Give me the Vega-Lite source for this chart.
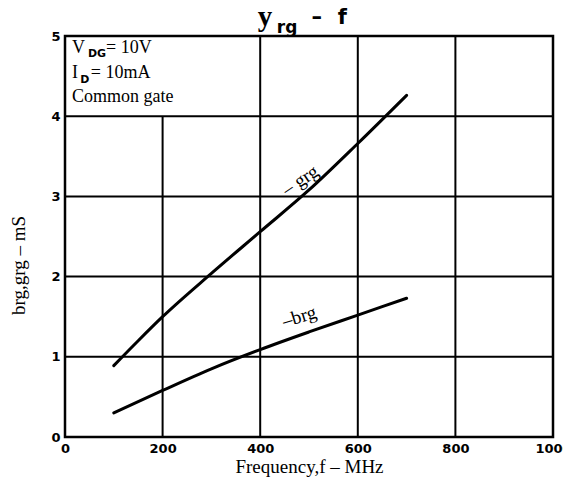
{
  "$schema": "https://vega.github.io/schema/vega-lite/v6.json",
  "width": 488,
  "height": 401,
  "autosize": {"type": "none"},
  "padding": {"left": 65, "top": 36, "right": 10, "bottom": 57},
  "background": "white",
  "config": {
    "view": {"stroke": "black", "strokeWidth": 2.5},
    "axis": {"domain": false, "grid": false, "ticks": false}
  },
  "datasets": {
    "curves": [
      {"series": "grg", "x": 100, "y": 0.89},
      {"series": "grg", "x": 150, "y": 1.2},
      {"series": "grg", "x": 200, "y": 1.5},
      {"series": "grg", "x": 300, "y": 2.04},
      {"series": "grg", "x": 400, "y": 2.56},
      {"series": "grg", "x": 500, "y": 3.08},
      {"series": "grg", "x": 600, "y": 3.66},
      {"series": "grg", "x": 700, "y": 4.26},
      {"series": "brg", "x": 100, "y": 0.3},
      {"series": "brg", "x": 200, "y": 0.58},
      {"series": "brg", "x": 300, "y": 0.85},
      {"series": "brg", "x": 400, "y": 1.09},
      {"series": "brg", "x": 500, "y": 1.31},
      {"series": "brg", "x": 600, "y": 1.52},
      {"series": "brg", "x": 700, "y": 1.73}
    ],
    "vgrid": [
      {"x": 200, "y": 0, "y1": 4},
      {"x": 400, "y": 0, "y1": 5},
      {"x": 600, "y": 0, "y1": 5},
      {"x": 800, "y": 0, "y1": 5}
    ],
    "hgrid": [{"y": 1}, {"y": 2}, {"y": 3}, {"y": 4}]
  },
  "layer": [
    {
      "data": {"name": "curves"},
      "mark": {"type": "line", "color": "black", "strokeWidth": 3, "interpolate": "monotone", "strokeCap": "round"},
      "encoding": {
        "x": {
          "field": "x", "type": "quantitative",
          "scale": {"domain": [0, 1000], "nice": false},
          "axis": {
            "values": [0, 200, 400, 600, 800, 1000], "format": "d",
            "labelFont": "DejaVu Sans", "labelFontWeight": "bold", "labelFontSize": 13,
            "labelColor": "black", "labelPadding": 5, "labelFlush": false,
            "title": "Frequency,f \u2013 MHz",
            "titleFont": "Liberation Serif", "titleFontSize": 19, "titleFontWeight": "normal",
            "titleColor": "black", "titlePadding": 2
          }
        },
        "y": {
          "field": "y", "type": "quantitative",
          "scale": {"domain": [0, 5], "nice": false},
          "axis": {
            "values": [0, 1, 2, 3, 4, 5], "format": "d",
            "labelFont": "DejaVu Sans", "labelFontWeight": "bold", "labelFontSize": 13,
            "labelColor": "black", "labelPadding": 5, "labelFlush": false,
            "title": "brg,grg \u2013 mS",
            "titleFont": "Liberation Serif", "titleFontSize": 19, "titleFontWeight": "normal",
            "titleColor": "black", "titleX": -47, "titleY": 229, "titleAngle": 270,
            "titleAlign": "center", "titleBaseline": "middle"
          }
        },
        "detail": {"field": "series"}
      }
    },
    {
      "data": {"name": "hgrid"},
      "mark": {"type": "rule", "color": "black", "strokeWidth": 2},
      "encoding": {
        "y": {"field": "y", "type": "quantitative"}
      }
    },
    {
      "data": {"name": "vgrid"},
      "mark": {"type": "rule", "color": "black", "strokeWidth": 2},
      "encoding": {
        "x": {"field": "x", "type": "quantitative"},
        "y": {"field": "y", "type": "quantitative"},
        "y2": {"field": "y1"}
      }
    },
    {
      "data": {"values": [
        {"x": 14.3, "y": 4.79, "t": "V"},
        {"x": 84, "y": 4.79, "t": "= 10V"},
        {"x": 14.3, "y": 4.48, "t": "I"},
        {"x": 53, "y": 4.48, "t": "= 10mA"},
        {"x": 14.3, "y": 4.18, "t": "Common gate"}
      ]},
      "mark": {"type": "text", "font": "Liberation Serif", "fontSize": 18, "align": "left", "baseline": "alphabetic", "color": "black"},
      "encoding": {
        "x": {"field": "x", "type": "quantitative"},
        "y": {"field": "y", "type": "quantitative"},
        "text": {"field": "t"}
      }
    },
    {
      "data": {"values": [
        {"x": 47, "y": 4.74, "t": "DG"},
        {"x": 31, "y": 4.41, "t": "D"}
      ]},
      "mark": {"type": "text", "font": "DejaVu Sans", "fontWeight": "bold", "fontSize": 11, "align": "left", "baseline": "alphabetic", "color": "black"},
      "encoding": {
        "x": {"field": "x", "type": "quantitative"},
        "y": {"field": "y", "type": "quantitative"},
        "text": {"field": "t"}
      }
    },
    {
      "data": {"values": [{"x": 482, "y": 3.2, "t": "\u2013 grg"}]},
      "mark": {"type": "text", "font": "Liberation Serif", "fontSize": 19, "align": "center", "baseline": "middle", "angle": -34, "color": "black"},
      "encoding": {
        "x": {"field": "x", "type": "quantitative"},
        "y": {"field": "y", "type": "quantitative"},
        "text": {"field": "t"}
      }
    },
    {
      "data": {"values": [{"x": 480, "y": 1.5, "t": "\u2013brg"}]},
      "mark": {"type": "text", "font": "Liberation Serif", "fontSize": 19, "align": "center", "baseline": "middle", "angle": -17, "color": "black"},
      "encoding": {
        "x": {"field": "x", "type": "quantitative"},
        "y": {"field": "y", "type": "quantitative"},
        "text": {"field": "t"}
      }
    },
    {
      "data": {"values": [{"x": 395, "y": 5.12, "t": "y"}]},
      "mark": {"type": "text", "font": "Liberation Serif", "fontWeight": "bold", "fontSize": 29, "align": "left", "baseline": "alphabetic", "color": "black"},
      "encoding": {
        "x": {"field": "x", "type": "quantitative"},
        "y": {"field": "y", "type": "quantitative"},
        "text": {"field": "t"}
      }
    },
    {
      "data": {"values": [{"x": 434, "y": 5.04, "t": "rg"}]},
      "mark": {"type": "text", "font": "DejaVu Sans", "fontWeight": "bold", "fontSize": 17, "align": "left", "baseline": "alphabetic", "color": "black"},
      "encoding": {
        "x": {"field": "x", "type": "quantitative"},
        "y": {"field": "y", "type": "quantitative"},
        "text": {"field": "t"}
      }
    },
    {
      "data": {"values": [{"x": 505, "y": 5.15, "t": "\u2013"}, {"x": 559, "y": 5.15, "t": "f"}]},
      "mark": {"type": "text", "font": "DejaVu Sans", "fontWeight": "bold", "fontSize": 21, "align": "left", "baseline": "alphabetic", "color": "black"},
      "encoding": {
        "x": {"field": "x", "type": "quantitative"},
        "y": {"field": "y", "type": "quantitative"},
        "text": {"field": "t"}
      }
    }
  ]
}
